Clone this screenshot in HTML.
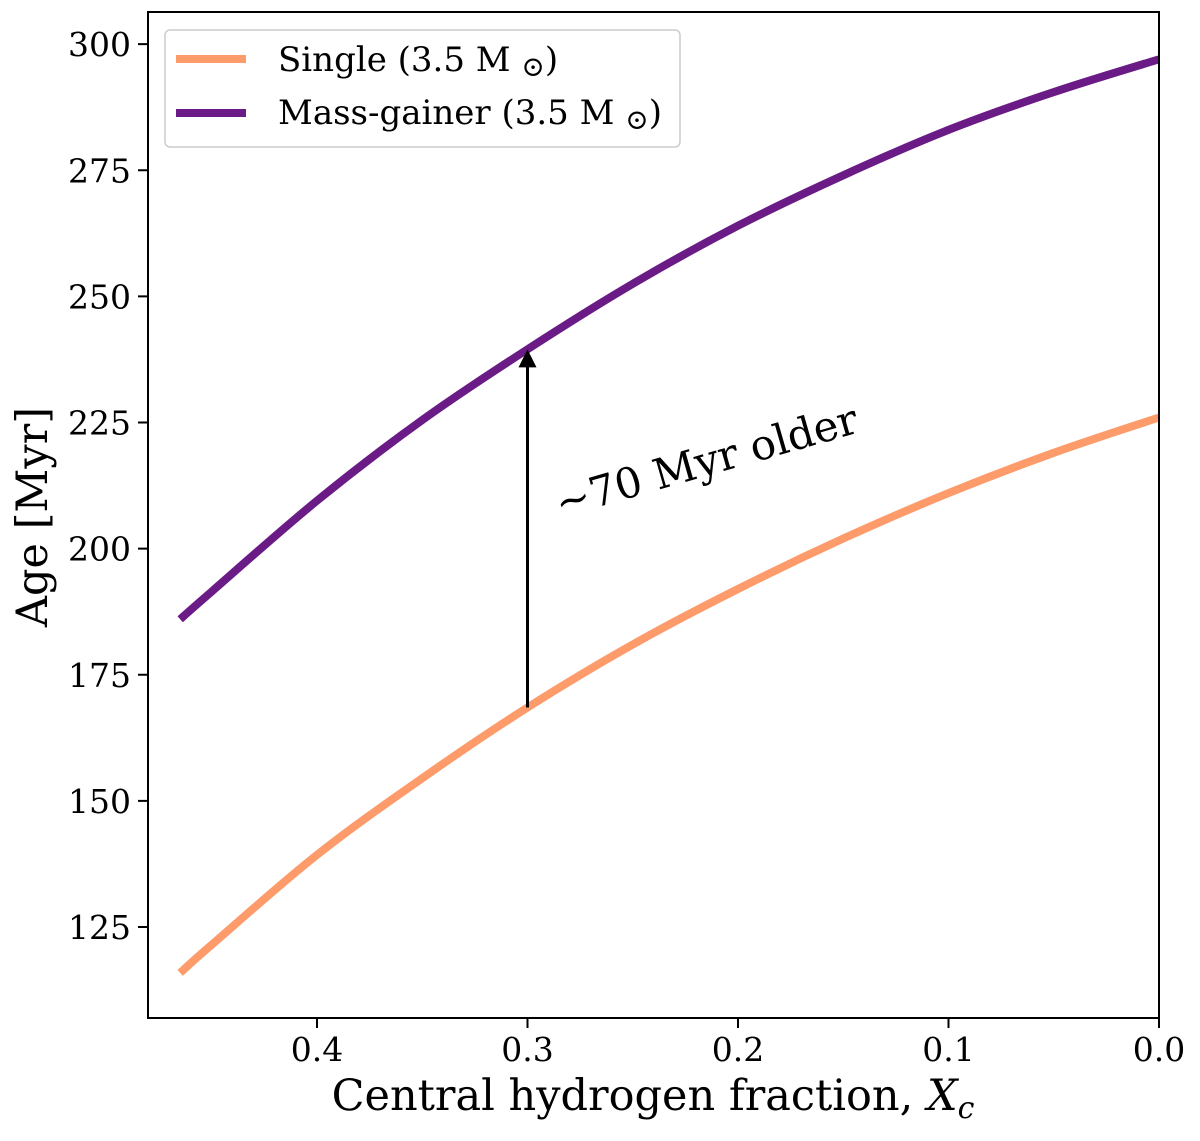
<!DOCTYPE html>
<html><head><meta charset="utf-8"><style>
body{margin:0;background:#fff;}
svg text{font-family:"DejaVu Serif","Liberation Serif",serif;fill:#000;}
</style></head><body>
<svg id="chart" width="1200" height="1136" xmlns="http://www.w3.org/2000/svg">
<g id="marks"></g>
<g id="axes"></g>
</svg>
<script>
const xcValues=[0.465,0.45,0.4,0.35,0.3,0.25,0.2,0.15,0.1,0.05,0.0];
const singleAges=[115.9,121.5,139.3,154.5,168.5,181,192,202,211,219,226];
const gainerAges=[186,191.5,209.5,225.5,239.5,252.5,264,274,283,290.5,297];
const xTicks=[0.4,0.3,0.2,0.1,0.0];
const xTickLabels=["0.4","0.3","0.2","0.1","0.0"];
const yTicks=[125,150,175,200,225,250,275,300];
const yTickLabels=["125","150","175","200","225","250","275","300"];
const arrowX=0.3, arrowFrom=168.5, arrowTo=239.5;

const L=148,R=1159,T=12,B=1018;
const X=v=>1159-(v/0.1)*210.5;
const Y=v=>927-(v-125)*5.045;
const NS="http://www.w3.org/2000/svg";
const marks=document.getElementById('marks'), axes=document.getElementById('axes');
function mk(tag,attrs,parent){const e=document.createElementNS(NS,tag);for(const k in attrs)e.setAttribute(k,attrs[k]);parent.appendChild(e);return e;}

function smoothPath(pts){
  let d=`M${pts[0][0]},${pts[0][1]}`;
  for(let i=0;i<pts.length-1;i++){
    const p0=pts[Math.max(0,i-1)],p1=pts[i],p2=pts[i+1],p3=pts[Math.min(pts.length-1,i+2)];
    const c1=[p1[0]+(p2[0]-p0[0])/6,p1[1]+(p2[1]-p0[1])/6];
    const c2=[p2[0]-(p3[0]-p1[0])/6,p2[1]-(p3[1]-p1[1])/6];
    d+=` C${c1[0].toFixed(1)},${c1[1].toFixed(1)} ${c2[0].toFixed(1)},${c2[1].toFixed(1)} ${p2[0].toFixed(1)},${p2[1].toFixed(1)}`;
  }
  return d;
}
function line(vals,color,name){
  const pts=xcValues.map((x,i)=>[X(x),Y(vals[i])]);
  const p=mk('path',{d:smoothPath(pts),fill:'none',stroke:color,'stroke-width':8}, marks);
  
  
}
line(singleAges,'#fd9b6b','single-star-line');
line(gainerAges,'#6a1b85','mass-gainer-line');

const ax=X(arrowX);
const a=mk('line',{x1:ax,y1:Y(arrowFrom),x2:ax,y2:Y(arrowTo)+14,stroke:'#000','stroke-width':3},marks);


const ah=mk('path',{d:`M${ax-9},${Y(arrowTo)+18} L${ax},${Y(arrowTo)} L${ax+9},${Y(arrowTo)+18} Z`,fill:'#000'},marks);


const at=mk('text',{x:560,y:518,'font-size':42,transform:'rotate(-16 560 518)'},marks);
at.textContent='~70 Myr older';



const fr=mk('rect',{x:L,y:T,width:R-L,height:B-T,fill:'none',stroke:'#000','stroke-width':2},axes);



xTicks.forEach((v,i)=>{
  const x=X(v);
  const t=mk('line',{x1:x,y1:B,x2:x,y2:B+10,stroke:'#000','stroke-width':2},axes);
  
  
  const l=mk('text',{x:x,y:B+43,'font-size':33,'text-anchor':'middle'},axes);
  l.textContent=xTickLabels[i];
  
  
});
yTicks.forEach((v,i)=>{
  const y=Y(v);
  const t=mk('line',{x1:L-10,y1:y,x2:L,y2:y,stroke:'#000','stroke-width':2},axes);
  
  
  const l=mk('text',{x:L-17,y:y+12,'font-size':33,'text-anchor':'end'},axes);
  l.textContent=yTickLabels[i];
  
  
});
</script>
<svg style="position:absolute;left:0;top:0" width="1200" height="1136" xmlns="http://www.w3.org/2000/svg" font-family="DejaVu Serif, Liberation Serif, serif">
<text x="653" y="1110" font-size="43" text-anchor="middle" font-family="DejaVu Serif, Liberation Serif, serif">Central hydrogen fraction, <tspan font-style="italic">X</tspan><tspan font-style="italic" font-size="30" dy="8">c</tspan></text>
<text x="47" y="517" font-size="43" text-anchor="middle" transform="rotate(-90 47 517)" font-family="DejaVu Serif, Liberation Serif, serif">Age [Myr]</text>
<g>
<rect x="165" y="30" width="515" height="117" rx="5" fill="#fff" stroke="#ccc" stroke-width="1.5"/>
<line x1="176" y1="59" x2="246" y2="59" stroke="#fd9b6b" stroke-width="8"/>
<text x="278" y="71" font-size="34" font-family="DejaVu Serif, Liberation Serif, serif">Single (3.5 M <tspan font-size="28" dy="5">⊙</tspan><tspan dy="-5">)</tspan></text>
<line x1="176" y1="113" x2="246" y2="113" stroke="#6a1b85" stroke-width="8"/>
<text x="278" y="124" font-size="34" font-family="DejaVu Serif, Liberation Serif, serif">Mass-gainer (3.5 M <tspan font-size="28" dy="5">⊙</tspan><tspan dy="-5">)</tspan></text>
</g>
</svg>
</body></html>
